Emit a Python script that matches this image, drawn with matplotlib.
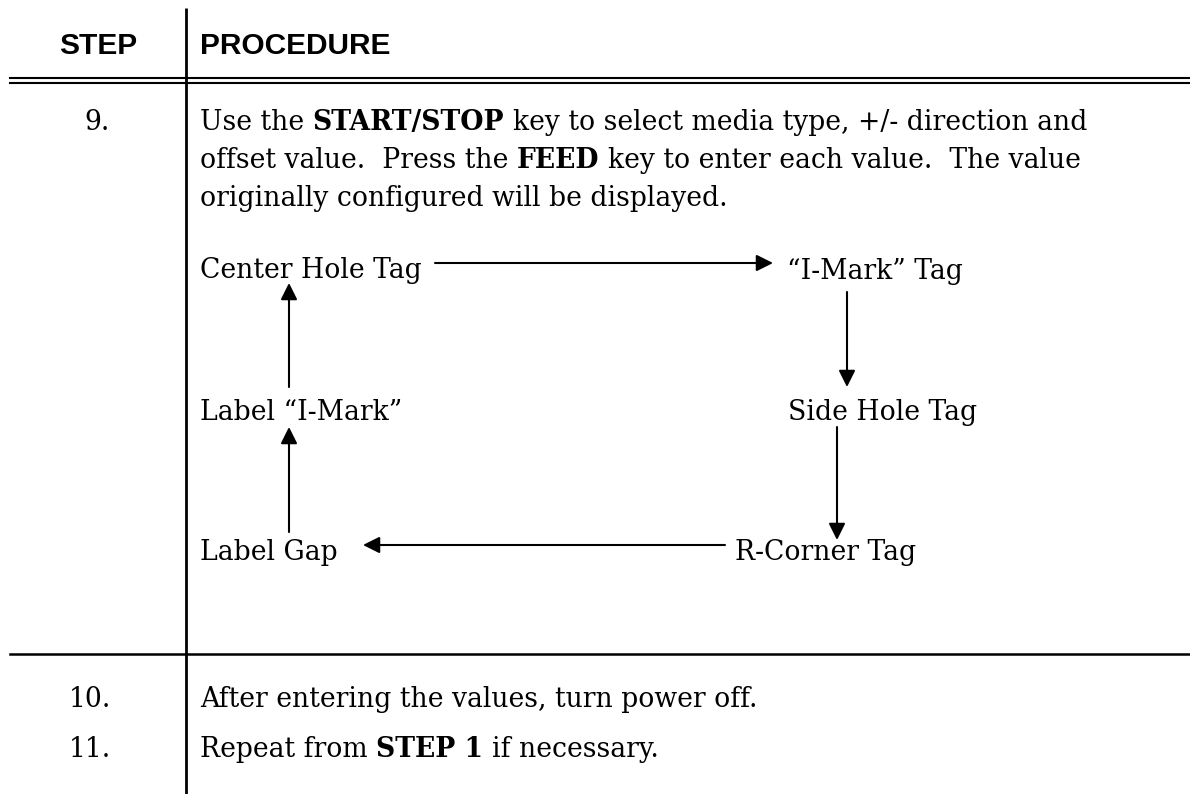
import matplotlib
matplotlib.use("Agg")
import matplotlib.pyplot as plt

# --- table content ---
header_labels = ["STEP", "PROCEDURE"]
step_numbers = ["9.", "10.", "11."]

# each text line is a list of (text, bold) runs
step9_lines = [
    [("Use the ", False), ("START/STOP", True), (" key to select media type, +/- direction and", False)],
    [("offset value.  Press the ", False), ("FEED", True), (" key to enter each value.  The value", False)],
    [("originally configured will be displayed.", False)],
]
step10_lines = [[("After entering the values, turn power off.", False)]]
step11_lines = [[("Repeat from ", False), ("STEP 1", True), (" if necessary.", False)]]

# media type cycle shown under step 9
flow_nodes = ["Center Hole Tag", "\u201cI-Mark\u201d Tag", "Side Hole Tag",
              "R-Corner Tag", "Label Gap", "Label \u201cI-Mark\u201d"]
flow_edges = [(0, 1), (1, 2), (2, 3), (3, 4), (4, 5), (5, 0)]

# --- layout (pixel-like coordinates, y grows downward) ---
W, H = 1190, 794
col_x = 186
num_x = [97, 90, 90]
text_x = 200
step_baselines = [130, 707, 757]
line_gap = 38
node_pos = [(200, 278), (787, 279), (788, 420), (735, 560), (200, 560), (200, 420)]
edge_pts = [((435, 263), (773, 263)),
            ((847, 292), (847, 387)),
            ((837, 427), (837, 540)),
            ((725, 545), (363, 545)),
            ((289, 532), (289, 427)),
            ((289, 387), (289, 283))]

serif = "DejaVu Serif"
sans = "Liberation Sans"
body_size = 19.2


def space_width(ax, renderer):
    a = ax.text(0, 0, "x x", family=serif, fontsize=body_size)
    b = ax.text(0, 0, "xx", family=serif, fontsize=body_size)
    w = a.get_window_extent(renderer).width - b.get_window_extent(renderer).width
    a.remove()
    b.remove()
    return w


def draw_runs(ax, x, y, runs, renderer, sp):
    # draws a line of mixed normal/bold text run after run
    inv = ax.transData.inverted()
    for txt, bold in runs:
        core = txt.strip(" ")
        lead = len(txt) - len(txt.lstrip(" "))
        trail = len(txt) - len(txt.rstrip(" "))
        x += lead * sp
        t = ax.text(x, y, core, family=serif, fontsize=body_size,
                    fontweight="bold" if bold else "normal",
                    ha="left", va="baseline", color="black")
        bb = t.get_window_extent(renderer)
        x = inv.transform((bb.x1, bb.y0))[0] + trail * sp


fig = plt.figure(figsize=(W / 100, H / 100), dpi=100)
ax = fig.add_axes([0, 0, 1, 1])
ax.set_xlim(0, W)
ax.set_ylim(H, 0)
ax.axis("off")
renderer = fig.canvas.get_renderer()
sp = space_width(ax, renderer)

# table rules
ax.plot([col_x, col_x], [8, H], color="black", lw=2.0, solid_capstyle="butt")
ax.plot([10, W], [78.3, 78.3], color="black", lw=1.5)
ax.plot([10, W], [82.7, 82.7], color="black", lw=1.5)
ax.plot([10, W], [654, 654], color="black", lw=1.8)

# header
ax.text(98, 54, header_labels[0], family=sans, fontweight="bold", fontsize=21.5,
        ha="center", va="baseline")
ax.text(text_x, 54, header_labels[1], family=sans, fontweight="bold", fontsize=21.5,
        ha="left", va="baseline")

# step rows
for i, (num, lines) in enumerate(zip(step_numbers, [step9_lines, step10_lines, step11_lines])):
    ax.text(num_x[i], step_baselines[i], num, family=serif, fontsize=body_size,
            ha="center", va="baseline")
    for j, runs in enumerate(lines):
        draw_runs(ax, text_x, step_baselines[i] + j * line_gap, runs, renderer, sp)

# flow diagram
for name, (x, y) in zip(flow_nodes, node_pos):
    ax.text(x, y, name, family=serif, fontsize=body_size, ha="left", va="baseline")

for (a, b), (start, tip) in zip(flow_edges, edge_pts):
    ax.annotate("", xy=tip, xytext=start,
                arrowprops=dict(arrowstyle="-|>,head_length=0.5,head_width=0.25",
                                mutation_scale=20, lw=1.5, color="black",
                                shrinkA=0, shrinkB=0))

fig.savefig("out.png", dpi=100, facecolor="white")
